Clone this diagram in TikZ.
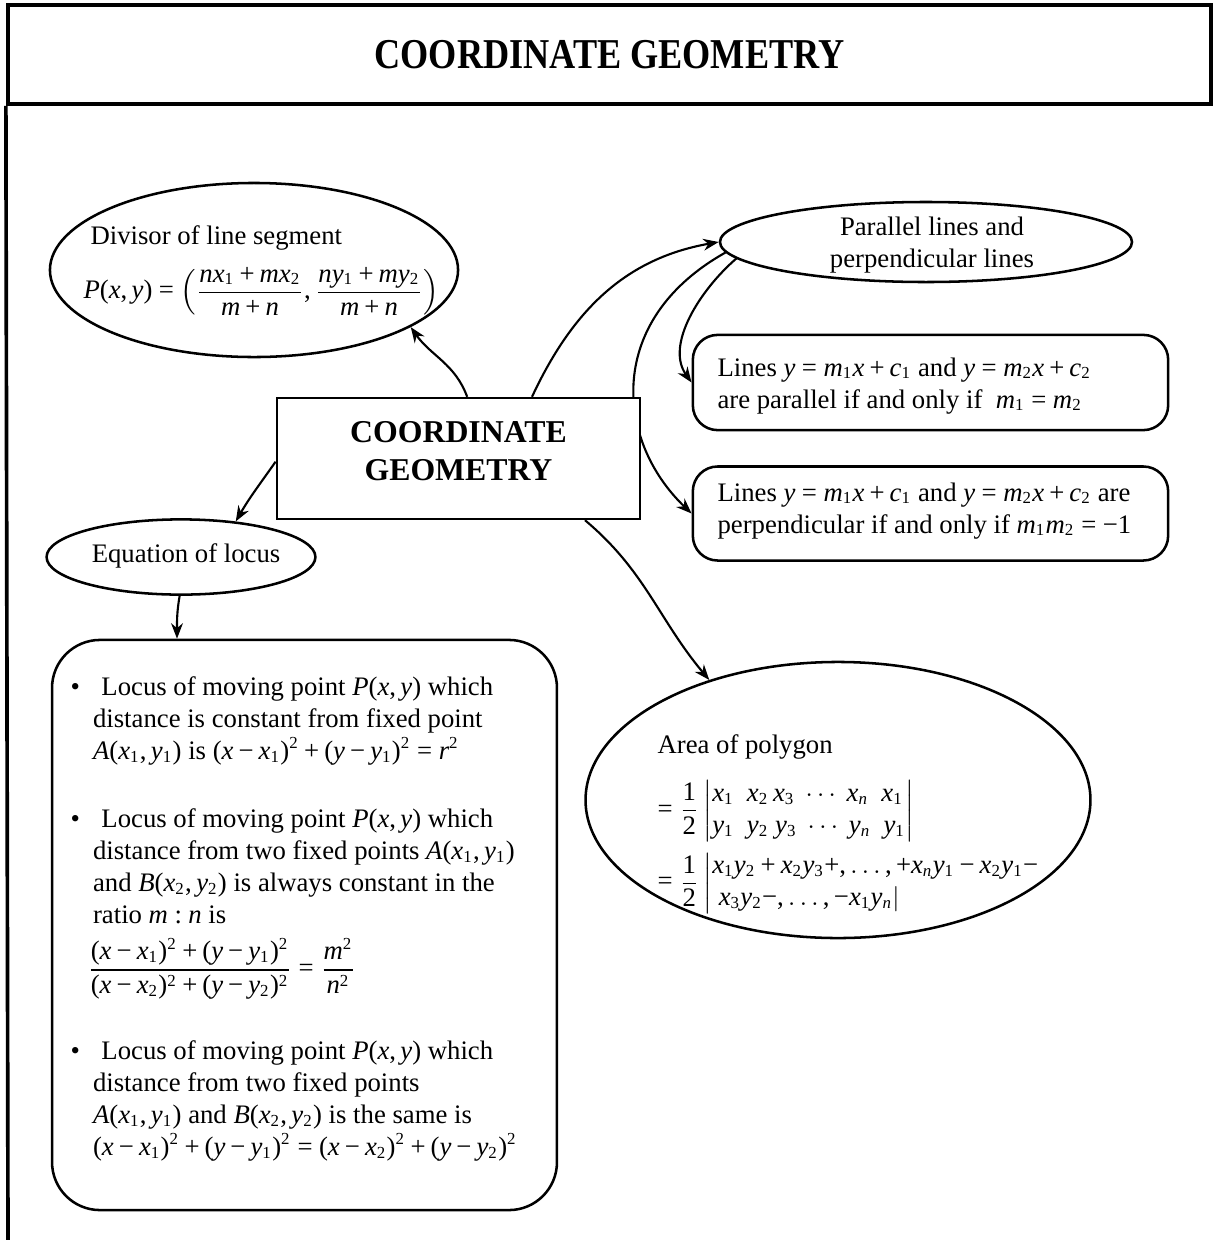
\documentclass[tikz,border=0pt]{standalone}
\usepackage{amsmath}
\usepackage{fontspec}
\setmainfont{Liberation Serif}
% Math letters, digits and operators in the text face
\DeclareSymbolFont{lsit}{TU}{\rmdefault}{m}{it}
\DeclareSymbolFont{lsrm}{TU}{\rmdefault}{m}{n}
\DeclareMathSizes{9.5}{9.5}{6}{5}
\makeatletter
\AtBeginDocument{%
  \count@=`a
  \loop \Umathcode\count@=7 \symlsit\count@ \advance\count@ by 1 \ifnum\count@<123 \repeat
  \count@=`A
  \loop \Umathcode\count@=7 \symlsit\count@ \advance\count@ by 1 \ifnum\count@<91 \repeat
  \count@=`0
  \loop \Umathcode\count@=0 \symlsrm\count@ \advance\count@ by 1 \ifnum\count@<58 \repeat
  \Umathcode`+=2 \symlsrm `+
  \Umathcode`==3 \symlsrm `=
  \Umathcode`-=2 \symlsrm "2212
  \Umathcode`(=4 \symlsrm `(
  \Umathcode`)=5 \symlsrm `)
  \Umathcode`,=6 \symlsrm `,
  \Umathcode`:=3 \symlsrm `:
  \medmuskip=3.5mu
  \thickmuskip=4.5mu}
\makeatother
\usetikzlibrary{shapes.geometric,arrows.meta,backgrounds}

\begin{document}
\begin{tikzpicture}[x=0.0125cm,y=-0.0125cm,
    every node/.style={font=\fontsize{9.5}{11.4}\selectfont},
    oval/.style={draw, ellipse, line width=0.9pt, inner sep=0pt, fill=white},
    rbox/.style={draw, rectangle, rounded corners=0.31cm, line width=0.9pt, inner sep=0pt, fill=white},
    txt/.style={inner sep=0pt, align=left},
    arr/.style={-{Stealth[length=5.5pt,width=4.2pt]}, line width=0.75pt}]
    \useasboundingbox (0,0) rectangle (1215,1240);
    % Add title bar and left frame line
    \node[draw, line width=1.3pt, minimum width=15.04cm, minimum height=1.24cm, inner sep=0pt,
          font=\fontsize{14}{16}\selectfont\bfseries] (title) at (609.5,54.5)
          {\scalebox{0.92}[1.08]{COORDINATE GEOMETRY}};
    \coordinate (lb) at (8,1240);
    \draw[line width=1.3pt] (title.south west) -- (lb);
    % Central box
    \node[draw, fill=white, line width=0.9pt, minimum width=4.54cm, minimum height=1.51cm, inner sep=0pt,
          align=center, font=\fontsize{11.3}{13.5}\selectfont\bfseries] (cg) at (458.5,458.5)
          {COORDINATE\\GEOMETRY\rule[-5.3pt]{0pt}{0pt}};
    % Divisor of line segment
    \node[oval, minimum width=5.1cm, minimum height=2.175cm] (div) at (254,270) {};
    \node[txt, anchor=north west] (divtxt) at (83,225)
          {\hspace*{2.5pt}Divisor of line segment\\[5pt]
           $P(x,y)=\left(\dfrac{nx_1+mx_2}{m+n},\dfrac{ny_1+my_2}{m+n}\right)$};
    % Parallel and perpendicular lines
    \node[oval, minimum width=5.15cm, minimum height=1.0cm] (par) at (926,242) {};
    \node[txt, align=center] (partxt) at (932,245) {Parallel lines and\\perpendicular lines};
    \node[rbox, minimum width=5.94cm, minimum height=1.19cm] (parbox) at (930.5,382.5) {};
    \node[txt, anchor=north west] (parboxtxt) at (717,357)
          {Lines $y=m_1x+c_1$ and $y=m_2x+c_2$\\
           are parallel if and only if \ $m_1=m_2$};
    \node[rbox, minimum width=5.94cm, minimum height=1.175cm] (perpbox) at (930.5,513.5) {};
    \node[txt, anchor=north west] (perpboxtxt) at (717,482)
          {Lines $y=m_1x+c_1$ and $y=m_2x+c_2$ are\\
           perpendicular if and only if $m_1m_2=-1$};
    % Equation of locus
    \node[oval, minimum width=3.36cm, minimum height=0.94cm] (eq) at (181,557) {};
    \node[txt, anchor=base] (eqtxt) at (186,562) {Equation of locus};
    \node[rbox, rounded corners=0.6cm, minimum width=6.31cm, minimum height=7.125cm] (locbox) at (304.5,925) {};
    \node[txt, anchor=north west] (loc1) at (70,676)
          {\makebox[10pt][l]{\textbullet}\hspace*{1pt}Locus of moving point $P(x,y)$ which\\
           \hspace*{8pt}distance is constant from fixed point\\
           \hspace*{8pt}$A(x_1,y_1)$ is $(x-x_1)^2+(y-y_1)^2=r^2$};
    \node[txt, anchor=north west] (loc2) at (70,808)
          {\makebox[10pt][l]{\textbullet}\hspace*{1pt}Locus of moving point $P(x,y)$ which\\
           \hspace*{8pt}distance from two fixed points $A(x_1,y_1)$\\
           \hspace*{8pt}and $B(x_2,y_2)$ is always constant in the\\
           \hspace*{8pt}ratio $m:n$ is\\[4pt]
           \hspace*{6pt}$\dfrac{(x-x_1)^2+(y-y_1)^2}{(x-x_2)^2+(y-y_2)^2}=\dfrac{m^2}{n^2}$};
    \node[txt, anchor=north west] (loc3) at (70,1040)
          {\makebox[10pt][l]{\textbullet}\hspace*{1pt}Locus of moving point $P(x,y)$ which\\
           \hspace*{8pt}distance from two fixed points\\
           \hspace*{8pt}$A(x_1,y_1)$ and $B(x_2,y_2)$ is the same is\\
           \hspace*{8pt}$(x-x_1)^2+(y-y_1)^2=(x-x_2)^2+(y-y_2)^2$};
    % Area of polygon
    \node[oval, minimum width=6.31cm, minimum height=3.45cm] (area) at (838,800) {};
    \node[txt, anchor=north west] (areatxt) at (657,734)
          {Area of polygon\\[6pt]
           $=\dfrac{1}{2}\left|\begin{array}{@{}l@{}}
              x_1\;\;x_2\,x_3\;\cdots\;x_n\;\;x_1\\
              y_1\;\;y_2\;y_3\;\cdots\;y_n\;\;y_1\end{array}\right|$\\[2pt]
           $=\dfrac{1}{2}\left|\begin{array}{@{}l@{}}
              x_1y_2+x_2y_3+,\ldots,+x_ny_1-x_2y_1-\\
              \;x_3y_2-,\ldots,-x_1y_n\vert\end{array}\right.$};
    % Connectors
    \begin{pgfonlayer}{background}
    \draw[arr] (cg.82) to[out=110,in=-55] (div.-20);
    \draw[arr] (cg.40) to[out=65,in=190] (par.west);
    \draw[arr] (par.185) .. controls (700,290) and (665,345) .. (parbox.west);
    \draw[arr] (par.183) .. controls (605,320) and (615,440) .. (perpbox.west);
    \draw[arr] (cg.181) to[out=-125,in=60] (eq.33);
    \draw[arr] (eq.-92) to[out=-100,in=90] (locbox.114);
    \draw[arr] (cg.-26.5) to[out=-40,in=130] (area.137);
    \end{pgfonlayer}
\end{tikzpicture}
\end{document}
